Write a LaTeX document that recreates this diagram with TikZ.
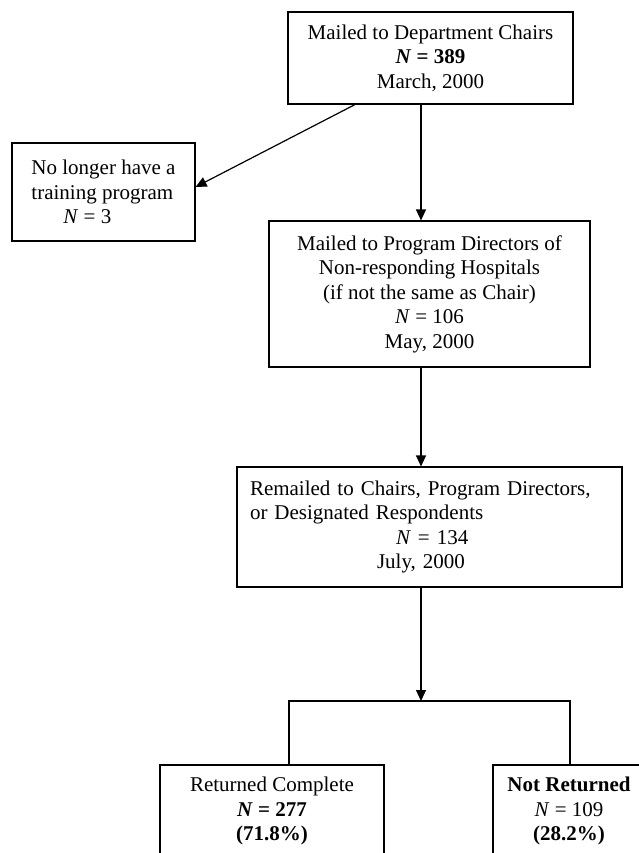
\documentclass[tikz,border=0pt]{standalone}
\usepackage{fontspec}
\setmainfont{Liberation Serif}
\usetikzlibrary{arrows.meta}

\begin{document}
\begin{tikzpicture}[x=1pt,y=-1pt,
	>={Triangle[length=11pt,width=10pt]},
	box/.style={draw,line width=1.1pt,inner sep=0pt,font=\fontsize{21}{24.5}\selectfont},
	flow/.style={line width=1.2pt}]
	\useasboundingbox (0,0) rectangle (639,853);
	\clip (0,0) rectangle (639,853);

	\node[box,minimum width=285pt,minimum height=92pt,align=center] (mailChairs) at (430.5,58) {Mailed to Department Chairs\\ \textbf{\textit{N} = 389}\\ March, 2000};
	\node[box,minimum width=183pt,minimum height=98pt,align=left] (noProgram) at (103.5,192) {No longer have a\\ training program\\ \hspace*{32pt}\textit{N} = 3};
	\node[box,minimum width=321pt,minimum height=146pt,align=center] (mailDirectors) at (429.5,294) {Mailed to Program Directors of\\ Non-responding Hospitals\\ (if not the same as Chair)\\ \textit{N} = 106\\ May, 2000};
	\node[box,minimum height=120pt,text width=359pt,inner xsep=13pt,align=left] (remailed) at (429.5,527) {Remailed to Chairs, Program Directors,\\ or Designated Respondents\\ \hspace*{146pt}\textit{N} = 134\\ \hspace*{127pt}July, 2000};
	\node[box,minimum width=224pt,minimum height=92pt,align=center] (returnedComplete) at (272,811) {Returned Complete\\ \textbf{\textit{N} = 277}\\ \textbf{(71.8\%)}};
	\node[box,minimum width=152pt,minimum height=92pt,align=center] (notReturned) at (569,811) {\textbf{Not Returned}\\ \textit{N} = 109\\ \textbf{(28.2\%)}};

	\coordinate (spine) at (421,0);
	\coordinate (splitMid) at (421,701);
	\coordinate (splitL) at (289,701);
	\coordinate (splitR) at (570,701);

	\draw[->,flow] ([xshift=-75.5pt]mailChairs.south) -- ([yshift=5pt]noProgram.east);
	\draw[->,flow] (mailChairs.south -| spine) -- (mailDirectors.north -| spine);
	\draw[->,flow] (mailDirectors.south -| spine) -- (remailed.north -| spine);
	\draw[->,flow] (remailed.south -| spine) -- (splitMid);
	\draw[flow] (returnedComplete.north -| splitL) -- (splitL) -- (splitR) -- (notReturned.north -| splitR);
\end{tikzpicture}
\end{document}
